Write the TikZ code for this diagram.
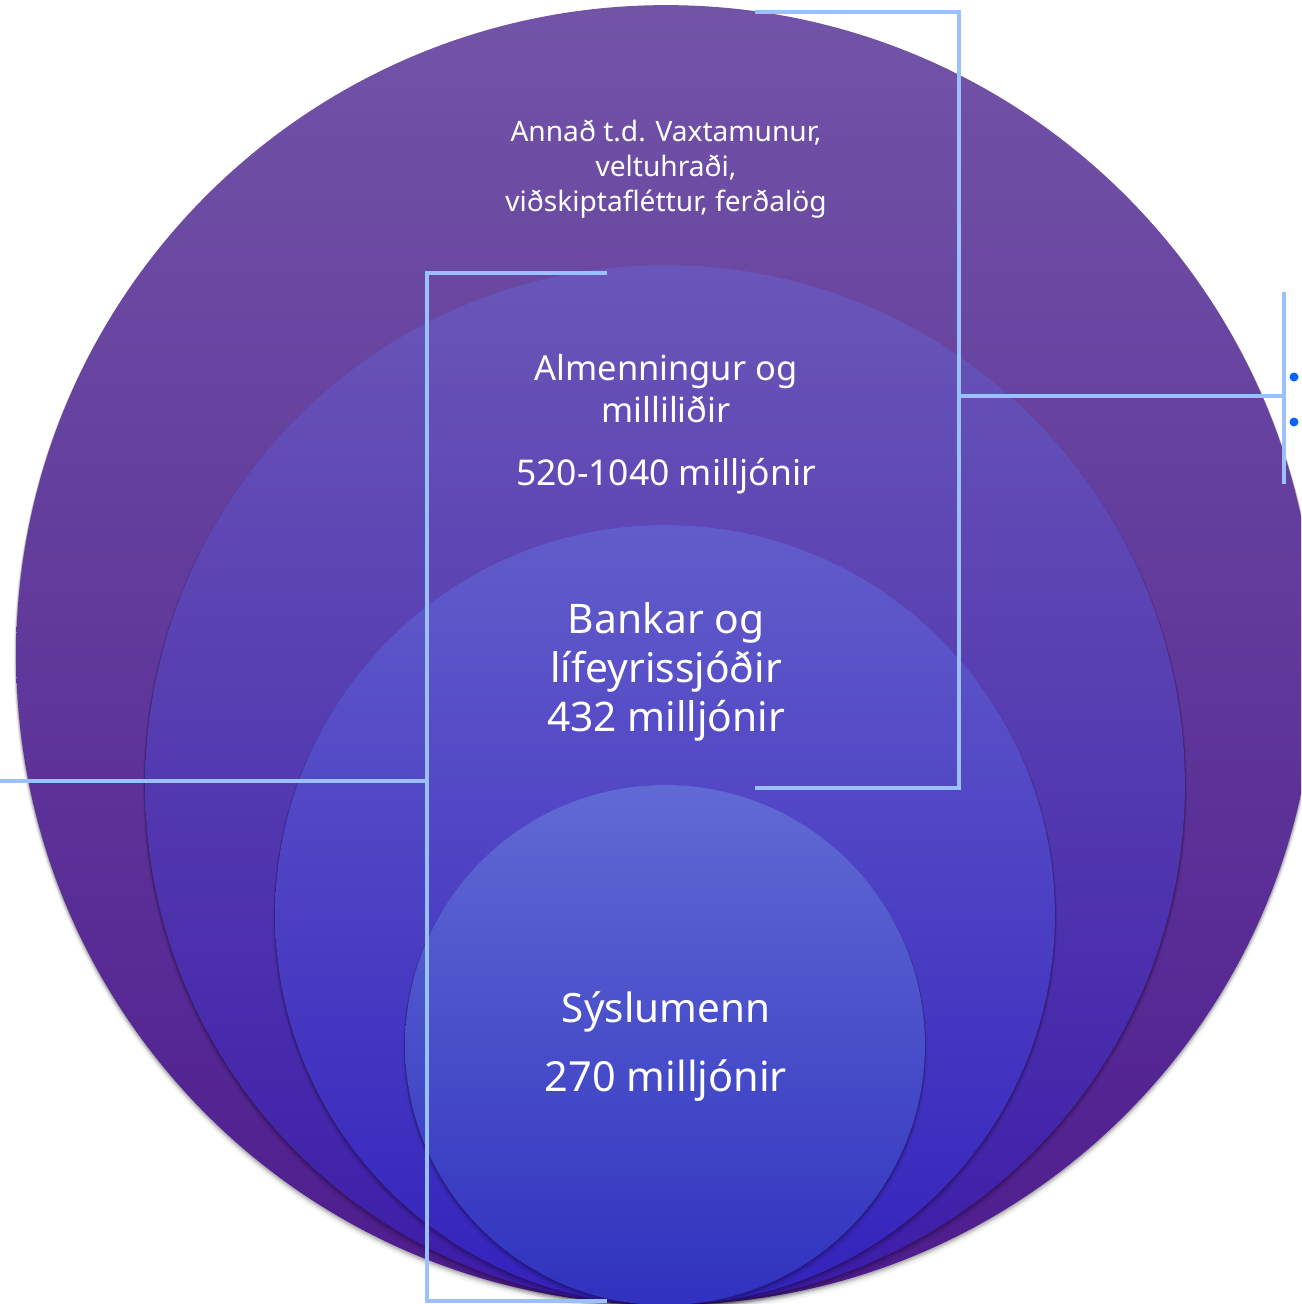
\documentclass[tikz,border=0pt]{standalone}
\usepackage{fontspec}
\setmainfont{Noto Sans}
\usetikzlibrary{calc}
\definecolor{linkblue}{HTML}{9AC0FF}
\definecolor{dotblue}{HTML}{0A64F5}
\definecolor{aTop}{HTML}{7254A7}
\definecolor{aBot}{HTML}{4E1C8E}
\definecolor{bTop}{HTML}{6A56B8}
\definecolor{bBot}{HTML}{3C1CA8}
\definecolor{cTop}{HTML}{625CCA}
\definecolor{cBot}{HTML}{3422BC}
\definecolor{dTop}{HTML}{616AD4}
\definecolor{dBot}{HTML}{3032BE}
\newcommand{\softshadow}[3]{%
  \foreach \d/\o in {1/0.10,2/0.08,3/0.07,4/0.05,6/0.04}{%
    \fill[black,opacity=\o] (#1,#2+\d*0.8) circle[radius=#3+\d*0.4];}}
\begin{document}
\begin{tikzpicture}[x=0.02cm,y=-0.02cm,
  disc/.style={circle,inner sep=0pt,minimum size=#1},
  bracket/.style={draw=linkblue,line width=2.6pt,line join=miter},
  lbl/.style={text=white,align=center,inner sep=0pt},
  bullet/.style={circle,fill=dotblue,inner sep=0pt,minimum size=0.18cm}]
\clip (0,0) rectangle (1301,1304);
\fill[white] (0,0) rectangle (1301,1304);

\softshadow{666}{655}{650}
\node[disc=26cm,top color=aTop,bottom color=aBot] (c1) at (666,655) {};
\softshadow{665}{785}{520}
\node[disc=20.8cm,top color=bTop,bottom color=bBot] (c2) at (665,785) {};
\softshadow{665}{915}{390}
\node[disc=15.6cm,top color=cTop,bottom color=cBot] (c3) at (665,915) {};
\softshadow{665}{1045}{260}
\node[disc=10.4cm,top color=dTop,bottom color=dBot] (c4) at (665,1045) {};

\node[lbl,font=\fontsize{16pt}{19.9pt}\selectfont] (t1) at (666,169)
  {Annað t.d. Vaxtamunur,\\veltuhraði,\\viðskiptafléttur, ferðalög};
\node[lbl,font=\fontsize{19.6pt}{23.9pt}\selectfont] (t2) at (666,389)
  {Almenningur og\\milliliðir};
\node[lbl,font=\fontsize{20.2pt}{23.9pt}\selectfont] (t2b) at (666,476)
  {520-1040 milljónir};
\node[lbl,font=\fontsize{23.2pt}{27.9pt}\selectfont] (t3) at (666,672)
  {Bankar og\\lífeyrissjóðir\\432 milljónir};
\node[lbl,font=\fontsize{23pt}{27.9pt}\selectfont] (t4) at (666,1012)
  {Sýslumenn};
\node[lbl,font=\fontsize{23.6pt}{27.9pt}\selectfont] (t4b) at (666,1081)
  {270 milljónir};

% right bracket
\coordinate (rt1) at (755,12);
\coordinate (rt2) at (959,12);
\coordinate (rb2) at (959,788);
\coordinate (rb1) at (755,788);
\coordinate (rm) at (959,396);
\coordinate (rx) at (1284,396);
\coordinate (rxt) at (1284,292);
\coordinate (rxb) at (1284,484);
\draw[bracket] (rt1) -- (rt2) -- (rb2) -- (rb1);
\draw[bracket] (rm) -- (rx);
\draw[bracket] (rxt) -- (rxb);
\node[bullet] (d1) at (1294,377) {};
\node[bullet] (d2) at (1294,422) {};

% left bracket
\coordinate (lt1) at (607,273);
\coordinate (lt0) at (427,273);
\coordinate (lb0) at (427,1301);
\coordinate (lb1) at (607,1301);
\coordinate (lm) at (427,781);
\coordinate (lx) at (0,781);
\draw[bracket] (lt1) -- (lt0) -- (lb0) -- (lb1);
\draw[bracket] (lm) -- (lx);
\end{tikzpicture}
\end{document}
